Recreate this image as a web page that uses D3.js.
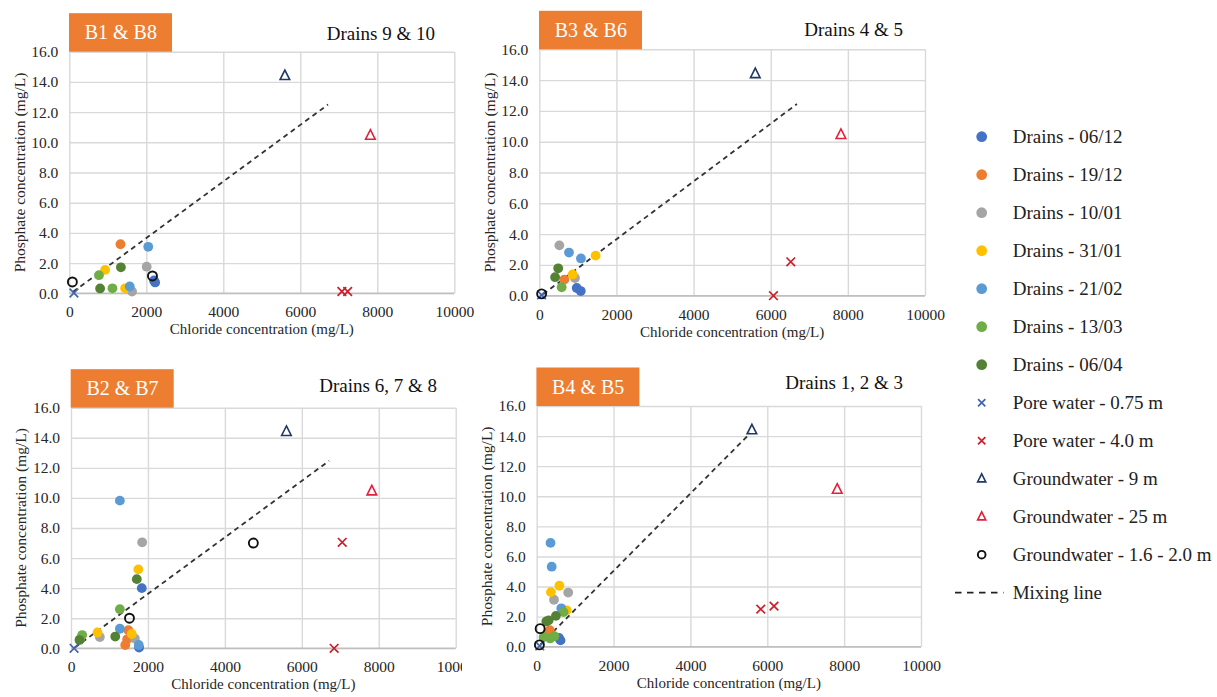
<!DOCTYPE html>
<html>
<head>
<meta charset="utf-8">
<script src="https://cdn.jsdelivr.net/npm/d3@7"></script>
<style>
  html, body { margin: 0; padding: 0; background: #fff; }
  svg, svg text { font-family: "Liberation Serif", "Times New Roman", serif; }
</style>
</head>
<body>
<svg id="chart" width="1217" height="697"></svg>
<script>
// ---- data ---------------------------------------------------------------
const seriesKeys = ["d0612", "d1912", "d1001", "d3101", "d2102", "d1303", "d0604",
                    "pw075", "pw40", "gw9", "gw25", "gw16"];
const seriesNames = ["Drains - 06/12", "Drains - 19/12", "Drains - 10/01", "Drains - 31/01",
                     "Drains - 21/02", "Drains  - 13/03", "Drains - 06/04",
                     "Pore water - 0.75 m", "Pore water - 4.0 m",
                     "Groundwater - 9 m", "Groundwater - 25 m", "Groundwater - 1.6 - 2.0 m"];
const mixingLineName = "Mixing line";

const panelLabels = ["B1 & B8", "B3 & B6", "B2 & B7", "B4 & B5"];
const panelTitles = ["Drains 9 & 10", "Drains 4 & 5", "Drains 6, 7 & 8", "Drains 1, 2 & 3"];

const xTicks = [0, 2000, 4000, 6000, 8000, 10000];
const yTicks = [0, 2, 4, 6, 8, 10, 12, 14, 16];
const xTitle = "Chloride concentration (mg/L)";
const yTitle = "Phosphate concentration (mg/L)";

// rows: [series, chloride (mg/L), phosphate (mg/L)]
const pointsB1B8 = [
  ["d0612", 2200, 0.85], ["d0612", 2230, 0.72],
  ["d1912", 1330, 3.25],
  ["d1001", 2010, 1.76], ["d1001", 1630, 0.12],
  ["d3101", 930, 1.55], ["d3101", 1450, 0.33],
  ["d2102", 2050, 3.08], ["d2102", 1570, 0.45],
  ["d1303", 770, 1.2], ["d1303", 1120, 0.33],
  ["d0604", 1340, 1.72], ["d0604", 800, 0.32],
  ["pw075", 120, 0.02],
  ["pw40", 7080, 0.12], ["pw40", 7230, 0.12],
  ["gw9", 5600, 14.4], ["gw25", 7820, 10.45],
  ["gw16", 80, 0.75], ["gw16", 2160, 1.15]
];
const pointsB3B6 = [
  ["d0612", 970, 0.5], ["d0612", 1075, 0.3],
  ["d1912", 650, 1.05],
  ["d1001", 520, 3.27], ["d1001", 925, 1.15],
  ["d3101", 1460, 2.6], ["d3101", 865, 1.38],
  ["d2102", 770, 2.8], ["d2102", 1080, 2.42],
  ["d1303", 580, 0.55],
  ["d0604", 490, 1.78], ["d0604", 410, 1.2],
  ["pw075", 60, 0.05],
  ["pw40", 6070, 0.0], ["pw40", 6520, 2.2],
  ["gw9", 5600, 14.4], ["gw25", 7820, 10.45],
  ["gw16", 60, 0.12]
];
const pointsB2B7 = [
  ["d0612", 1840, 4.0], ["d0612", 1770, 0.05],
  ["d1912", 1490, 1.2], ["d1912", 1410, 0.22], ["d1912", 1460, 0.6],
  ["d1001", 1850, 7.05], ["d1001", 1660, 0.65], ["d1001", 750, 0.75],
  ["d3101", 1750, 5.25], ["d3101", 1580, 0.95], ["d3101", 690, 1.05],
  ["d2102", 1270, 9.82], ["d2102", 1270, 1.3], ["d2102", 1760, 0.22],
  ["d1303", 1270, 2.6], ["d1303", 290, 0.88], ["d1303", 240, 0.62],
  ["d0604", 1710, 4.6], ["d0604", 1150, 0.78], ["d0604", 220, 0.55],
  ["pw075", 80, 0.0],
  ["pw40", 7050, 7.05], ["pw40", 6840, 0.0],
  ["gw9", 5600, 14.4], ["gw25", 7820, 10.45],
  ["gw16", 4740, 7.0], ["gw16", 1520, 2.0]
];
const pointsB4B5 = [
  ["d0612", 580, 0.58], ["d0612", 620, 0.42],
  ["d1912", 340, 1.1], ["d1912", 260, 0.85],
  ["d1001", 450, 3.12], ["d1001", 820, 3.6],
  ["d3101", 370, 3.63], ["d3101", 590, 4.05], ["d3101", 780, 2.42],
  ["d2102", 360, 6.9], ["d2102", 390, 5.32], ["d2102", 640, 2.55],
  ["d1303", 700, 2.3], ["d1303", 180, 0.65], ["d1303", 350, 0.55], ["d1303", 460, 0.7],
  ["d0604", 500, 2.05], ["d0604", 250, 1.68], ["d0604", 310, 1.75],
  ["pw075", 80, 0.05],
  ["pw40", 5830, 2.5], ["pw40", 6175, 2.7],
  ["gw9", 5600, 14.4], ["gw25", 7820, 10.45],
  ["gw16", 90, 1.2], ["gw16", 70, 0.12]
];

// mixing line end points [chloride, phosphate]
const mixB1B8 = [[100, 0.1], [6720, 12.5]];
const mixB3B6 = [[100, 0.1], [6680, 12.45]];
const mixB2B7 = [[100, 0.05], [6710, 12.47]];
const mixB4B5 = [[100, 0.15], [5560, 14.2]];

// ---- styles -------------------------------------------------------------
const FONT = '"Liberation Serif", "Times New Roman", serif';
const seriesStyle = {
  d0612: { shape: "dot", color: "#4472C4" },
  d1912: { shape: "dot", color: "#ED7D31" },
  d1001: { shape: "dot", color: "#A5A5A5" },
  d3101: { shape: "dot", color: "#FFC000" },
  d2102: { shape: "dot", color: "#5B9BD5" },
  d1303: { shape: "dot", color: "#70AD47" },
  d0604: { shape: "dot", color: "#548235" },
  pw075: { shape: "cross", color: "#3F63B0" },
  pw40:  { shape: "cross", color: "#CC1F2A" },
  gw9:   { shape: "tri", color: "#1F3864" },
  gw25:  { shape: "tri", color: "#E41E3A" },
  gw16:  { shape: "ring", color: "#111111" }
};
const labelFill = "#ED7D31";
const gridColor = "#D9D9D9";
const textColor = "#262626";

// plot frames (pixel layout of each panel)
const frames = [
  { left: 69.3,  right: 454.3, top: 51.7, bottom: 293.3, titleRight: 435, titleBase: 40 },
  { left: 539.3, right: 925,   top: 49.3, bottom: 295.7, titleRight: 903, titleBase: 36 },
  { left: 71,    right: 455.7, top: 407.7, bottom: 648.3, titleRight: 437, titleBase: 392 },
  { left: 536.7, right: 921,   top: 406,  bottom: 646.7, titleRight: 903, titleBase: 388.5 }
];
const panelPoints = [pointsB1B8, pointsB3B6, pointsB2B7, pointsB4B5];
const panelMix = [mixB1B8, mixB3B6, mixB2B7, mixB4B5];

const svg = d3.select("#chart").attr("font-family", FONT);

function txt(sel, size) {
  return sel.attr("font-family", FONT).style("font-family", FONT).style("font-size", size + "px");
}

// marker drawing
function drawMarker(sel, key, scale) {
  const st = seriesStyle[key];
  const s = scale || 1;
  if (st.shape === "dot") {
    sel.append("circle").attr("r", 4.9 * s).attr("fill", st.color);
  } else if (st.shape === "cross") {
    const h = 4.3 * s;
    sel.append("path")
      .attr("d", `M${-h},${-h}L${h},${h}M${-h},${h}L${h},${-h}`)
      .attr("stroke", st.color).attr("stroke-width", 1.7).attr("fill", "none");
  } else if (st.shape === "tri") {
    const w = 4.8 * s, t = 5.8 * s, b = 3.7 * s;
    sel.append("path")
      .attr("d", `M0,${-t}L${w},${b}L${-w},${b}Z`)
      .attr("stroke", st.color).attr("stroke-width", 1.6).attr("fill", "none");
  } else if (st.shape === "ring") {
    sel.append("circle").attr("r", 4.5 * s)
      .attr("fill", "none").attr("stroke", st.color).attr("stroke-width", 1.9);
  }
}

function drawPanel(i) {
  const f = frames[i];
  const g = svg.append("g");

  if (i === 3) {
    // panel background covers the neighbour's overflow
    g.append("rect").attr("x", 462).attr("y", 350).attr("width", 480).attr("height", 347).attr("fill", "#fff");
  }

  const x = d3.scaleLinear().domain([0, 10000]).range([f.left, f.right]);
  const y = d3.scaleLinear().domain([0, 16]).range([f.bottom, f.top]);
  const w = f.right - f.left, h = f.bottom - f.top;

  // grid
  g.append("g").attr("transform", `translate(0,${f.bottom})`)
    .call(d3.axisBottom(x).tickValues(xTicks).tickSize(-h).tickFormat(""))
    .call(a => a.select(".domain").remove())
    .call(a => a.selectAll("line").attr("stroke", gridColor).attr("stroke-width", 1.4));
  g.append("g").attr("transform", `translate(${f.left},0)`)
    .call(d3.axisLeft(y).tickValues(yTicks).tickSize(-w).tickFormat(""))
    .call(a => a.select(".domain").remove())
    .call(a => a.selectAll("line").attr("stroke", gridColor).attr("stroke-width", 1.4));
  g.append("line").attr("x1", f.left).attr("x2", f.right).attr("y1", f.bottom).attr("y2", f.bottom)
    .attr("stroke", "#BFBFBF").attr("stroke-width", 1.4);

  // tick labels
  g.append("g").attr("transform", `translate(0,${f.bottom})`)
    .call(d3.axisBottom(x).tickValues(xTicks).tickSize(0).tickPadding(13).tickFormat(d3.format("d")))
    .attr("font-family", FONT)
    .call(a => a.select(".domain").remove())
    .call(a => txt(a.selectAll("text").attr("fill", textColor), 15.5));
  g.append("g").attr("transform", `translate(${f.left},0)`)
    .call(d3.axisLeft(y).tickValues(yTicks).tickSize(0).tickPadding(11).tickFormat(d3.format(".1f")))
    .attr("font-family", FONT)
    .call(a => a.select(".domain").remove())
    .call(a => txt(a.selectAll("text").attr("fill", textColor), 15.5));

  // axis titles
  txt(g.append("text"), 15).attr("x", (f.left + f.right) / 2).attr("y", f.bottom + 41)
    .attr("text-anchor", "middle").attr("fill", textColor).text(xTitle);
  txt(g.append("text"), 15.5)
    .attr("transform", `translate(${f.left - 50},${(f.top + f.bottom) / 2}) rotate(-90)`)
    .attr("text-anchor", "middle").attr("dy", "0.35em").attr("fill", textColor)
    .text(yTitle);

  // orange tag + title
  g.append("rect").attr("x", f.left - 0.3).attr("y", f.top - 38.5).attr("width", 103).attr("height", 38.5)
    .attr("fill", labelFill);
  txt(g.append("text"), 20).attr("x", f.left + 51.5).attr("y", f.top - 12.5).attr("text-anchor", "middle")
    .attr("fill", "#fff").text(panelLabels[i]);
  txt(g.append("text"), 19).attr("x", f.titleRight).attr("y", f.titleBase).attr("text-anchor", "end")
    .attr("fill", "#111").text(panelTitles[i]);

  // mixing line
  g.append("path").datum(panelMix[i])
    .attr("d", d3.line().x(d => x(d[0])).y(d => y(d[1])))
    .attr("fill", "none").attr("stroke", "#333").attr("stroke-width", 1.8).attr("stroke-dasharray", "5,4");

  // points, in series order
  const pts = panelPoints[i].slice().sort((a, b) => seriesKeys.indexOf(a[0]) - seriesKeys.indexOf(b[0]));
  pts.forEach(p => {
    const m = g.append("g").attr("transform", `translate(${x(p[1])},${y(p[2])})`);
    drawMarker(m, p[0]);
  });
}

[0, 1, 2, 3].forEach(drawPanel);

// ---- legend -------------------------------------------------------------
const legend = svg.append("g");
const legX = 981.7, legText = 1012.7, legY0 = 136.7, legStep = 38;
seriesKeys.forEach((k, i) => {
  const yy = legY0 + i * legStep;
  const m = legend.append("g").attr("transform", `translate(${legX},${yy})`);
  drawMarker(m, k, seriesStyle[k].shape === "dot" ? 1.1 : 0.85);
  txt(legend.append("text"), 19).attr("x", legText).attr("y", yy + 6.3).attr("fill", "#222")
    .text(seriesNames[i]);
});
{
  const yy = legY0 + seriesKeys.length * legStep;
  legend.append("line").attr("x1", 955).attr("x2", 1003.5).attr("y1", yy).attr("y2", yy)
    .attr("stroke", "#222").attr("stroke-width", 1.8).attr("stroke-dasharray", "6.5,5.5");
  txt(legend.append("text"), 19).attr("x", legText).attr("y", yy + 6.3).attr("fill", "#222")
    .text(mixingLineName);
}
</script>
</body>
</html>
